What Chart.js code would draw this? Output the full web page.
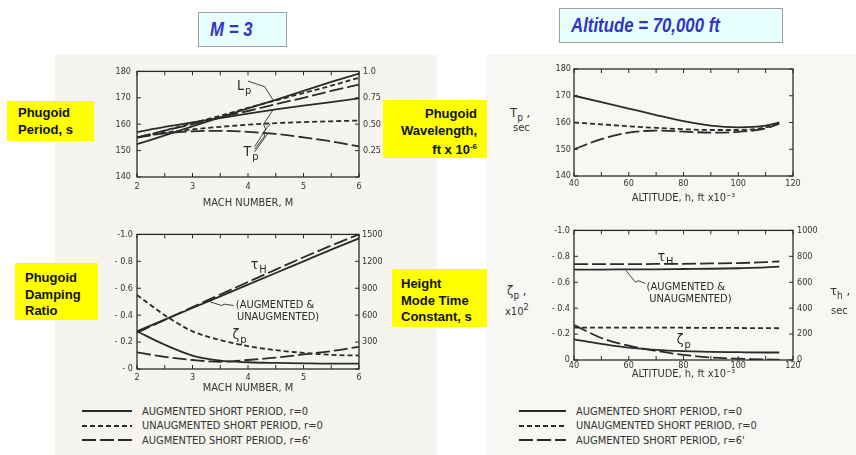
<!DOCTYPE html>
<html>
<head>
<meta charset="utf-8">
<script src="https://cdn.jsdelivr.net/npm/chart.js@4.4.1/dist/chart.umd.min.js"></script>
<style>
  body { margin: 0; width: 856px; height: 455px; position: relative; overflow: hidden; background: #fff; }
  .scan { position: absolute; background: #f6f4ef; }
  canvas { position: absolute; }
  .title { position: absolute; box-sizing: border-box; background: #e8ffff; border: 1px solid #a0a0a0;
           color: #3434c4; font: italic bold 20px 'Liberation Sans', Arial, sans-serif; padding-left: 11px; white-space: nowrap; }
  .title span { display: inline-block; transform: scaleX(0.84); transform-origin: left center; }
  .tag { position: absolute; box-sizing: border-box; background: #ffff00; color: #111;
         font: bold 13px 'Liberation Sans', Arial, sans-serif; line-height: 16.5px; }
  .axlbl { position: absolute; color: #333; font: 13px 'Liberation Sans Narrow', 'DejaVu Sans Condensed', sans-serif; line-height: 14px; }
  .axlbl.small { font-size: 11px; }
  .legend { position: absolute; color: #333; font: 11px 'Liberation Sans Narrow', 'DejaVu Sans Condensed', sans-serif; }
  .legend div { height: 14.5px; display: flex; align-items: center; }
  .legend svg { margin-right: 10px; }
</style>
</head>
<body>
<div class="scan" style="left:55px;top:55px;width:382px;height:400px;"></div>
<div class="scan" style="left:486px;top:55px;width:370px;height:400px;background:#f7f7f4;"></div>

<div class="title" style="left:198px;top:12px;width:89px;height:35px;line-height:33px;"><span>M = 3</span></div>
<div class="title" style="left:559px;top:8px;width:224px;height:35px;line-height:33px;"><span>Altitude = 70,000 ft</span></div>

<canvas id="machPeriod"></canvas>
<canvas id="machDamping"></canvas>
<canvas id="altPeriod"></canvas>
<canvas id="altDamping"></canvas>

<div class="tag" style="left:7px;top:101px;width:87px;height:40px;padding:4px 0 0 11px;">Phugoid<br>Period, s</div>
<div class="tag" style="left:383px;top:100px;width:104px;height:58px;padding:6px 10px 0 0;text-align:right;">Phugoid<br>Wavelength,<br>ft x 10<sup style="font-size:8px">-6</sup></div>
<div class="tag" style="left:15px;top:263px;width:83px;height:57px;padding:7px 0 0 10px;">Phugoid<br>Damping<br>Ratio</div>
<div class="tag" style="left:392px;top:269px;width:95px;height:58px;padding:7px 0 0 9px;">Height<br>Mode Time<br>Constant, s</div>

<div class="axlbl" style="left:510px;top:106px;">T<sub style="font-size:10px">p</sub> ,</div>
<div class="axlbl small" style="left:513px;top:121px;">sec</div>
<div class="axlbl" style="left:507px;top:284px;">ζ<sub style="font-size:10px">p</sub> ,</div>
<div class="axlbl small" style="left:505px;top:300px;">x10<sup style="font-size:9px">2</sup></div>
<div class="axlbl" style="left:830px;top:284px;">τ<sub style="font-size:10px">h</sub> ,</div>
<div class="axlbl small" style="left:831px;top:304px;">sec</div>

<div class="legend" id="legendMach" style="left:82px;top:404px;"></div>
<div class="legend" id="legendAlt" style="left:519px;top:404px;"></div>

<script>
// ---- data ----
const machNumbers = [2, 2.5, 3, 3.5, 4, 4.5, 5, 5.5, 6];
const altitudes = [40, 50, 60, 70, 80, 90, 100, 110, 115];

const machTicks = [2, 3, 4, 5, 6];
const altitudeTicks = [40, 60, 80, 100, 120];
const periodTicks = [140, 150, 160, 170, 180];
const wavelengthTicks = [0, 0.25, 0.5, 0.75, 1.0];
const dampingTicks = [-1, -0.8, -0.6, -0.4, -0.2, 0];
const tauMachTicks = [0, 300, 600, 900, 1200, 1500];
const tauAltTicks = [0, 200, 400, 600, 800, 1000];

// M = 3 column, phugoid period T_p (s)
const periodAugMach = [157, 159, 160.7, 162.3, 164, 165.6, 167, 168.4, 169.8];
const periodUnaugMach = [155, 156.8, 158, 159, 159.8, 160.4, 160.8, 161.1, 161.4];
const periodAug6Mach = [155, 156.5, 157.3, 157.5, 157.1, 156.3, 155, 153.5, 151.6];
// phugoid wavelength L_p (ft x 10^-6)
const wavelengthAug = [0.31, 0.395, 0.48, 0.565, 0.65, 0.73, 0.815, 0.9, 0.98];
const wavelengthUnaug = [0.37, 0.44, 0.51, 0.58, 0.655, 0.725, 0.795, 0.865, 0.94];
const wavelengthAug6 = [0.375, 0.44, 0.5, 0.565, 0.625, 0.69, 0.75, 0.815, 0.875];
// phugoid damping ratio zeta_p
const dampingAugMach = [-0.28, -0.18, -0.10, -0.062, -0.05, -0.045, -0.042, -0.04, -0.04];
const dampingUnaugMach = [-0.55, -0.40, -0.28, -0.215, -0.17, -0.14, -0.12, -0.105, -0.10];
const dampingAug6Mach = [-0.123, -0.09, -0.067, -0.054, -0.067, -0.084, -0.108, -0.133, -0.165];
// height mode time constant tau_H (s)
const tauAugMach = [420, 550, 680, 810, 940, 1070, 1200, 1330, 1455];
const tauAug6Mach = [405, 548, 690, 830, 970, 1108, 1245, 1375, 1500];

// altitude column
const periodAugAlt = [170, 167.6, 165.2, 162.8, 160.5, 158.8, 158.2, 158.8, 160];
const periodUnaugAlt = [160, 159.3, 158.6, 158, 157.5, 157.2, 157.2, 158.2, 159.8];
const periodAug6Alt = [150, 153.8, 156.2, 157, 156.6, 156.2, 156.5, 157.8, 159.6];
const dampingAugAlt = [-0.16, -0.125, -0.095, -0.078, -0.068, -0.062, -0.06, -0.058, -0.058];
const dampingUnaugAlt = [-0.25, -0.25, -0.25, -0.25, -0.249, -0.248, -0.247, -0.246, -0.245];
const dampingAug6Alt = [-0.27, -0.17, -0.11, -0.07, -0.04, -0.02, -0.01, -0.004, -0.002];
const tauAugAlt = [698, 698, 699, 700, 702, 704, 708, 714, 720];
const tauAug6Alt = [740, 740, 740, 741, 742, 745, 748, 755, 760];

const legendItems = ['AUGMENTED SHORT PERIOD, r=0', 'UNAUGMENTED SHORT PERIOD, r=0', "AUGMENTED SHORT PERIOD, r=6'"];

// ---- styling ----
const ink = '#2b2b2b';
const scanFont = "'Liberation Sans Narrow', 'DejaVu Sans Condensed', sans-serif";
const dashes = { aug: [], unaug: [5, 3], aug6: [14, 4] };
Chart.defaults.font.family = scanFont;
Chart.defaults.color = '#333';

function series(xs, ys, style, axis) {
    return {
        data: xs.map((x, i) => ({ x, y: ys[i] })),
        yAxisID: axis || 'y',
        borderColor: ink,
        borderWidth: 1.8,
        borderDash: dashes[style],
        pointRadius: 0,
        cubicInterpolationMode: 'monotone',
        fill: false,
    };
}

function axis(opts) {
    const { ticks, pos, size, pad, fmt, title, min, max, reverse } = opts;
    return {
        type: 'linear',
        position: pos,
        min, max, reverse: !!reverse,
        grid: { display: false, drawTicks: false },
        border: { display: false },
        afterBuildTicks: (s) => { s.ticks = ticks.map((v) => ({ value: v })); },
        afterFit: (s) => { if (s.isHorizontal()) s.height = size; else s.width = size; },
        ticks: { padding: pad, font: { size: 9 }, autoSkip: false, callback: fmt || ((v) => v) },
        title: title ? { display: true, text: title, padding: 0, font: { size: 11 } } : { display: false },
    };
}

// frame around plot area with inward tick marks, like the scanned figures
const framePlugin = {
    id: 'frame',
    afterDraw(chart) {
        const { ctx, chartArea: a, scales } = chart;
        const len = 4;
        ctx.save();
        ctx.strokeStyle = ink;
        ctx.lineWidth = 1.3;
        ctx.strokeRect(a.left, a.top, a.right - a.left, a.bottom - a.top);
        ctx.lineWidth = 1;
        ctx.beginPath();
        const xv = scales.x.ticks.map((t) => t.value);
        const marks = [];
        xv.forEach((v, i) => { marks.push(v); if (i < xv.length - 1) marks.push((v + xv[i + 1]) / 2); });
        marks.forEach((v) => {
            const p = scales.x.getPixelForValue(v);
            ctx.moveTo(p, a.bottom); ctx.lineTo(p, a.bottom - len);
            ctx.moveTo(p, a.top); ctx.lineTo(p, a.top + len);
        });
        scales.y.ticks.forEach((t) => {
            const p = scales.y.getPixelForValue(t.value);
            ctx.moveTo(a.left, p); ctx.lineTo(a.left + len, p);
            if (!scales.y2) { ctx.moveTo(a.right, p); ctx.lineTo(a.right - len, p); }
        });
        if (scales.y2) {
            scales.y2.ticks.forEach((t) => {
                const p = scales.y2.getPixelForValue(t.value);
                ctx.moveTo(a.right, p); ctx.lineTo(a.right - len, p);
            });
        }
        ctx.stroke();
        ctx.restore();
    },
};

// curve labels and leader lines placed in data units
const notesPlugin = {
    id: 'notes',
    afterDatasetsDraw(chart, args, opts) {
        const { ctx, scales } = chart;
        const at = (x, y, ax) => [scales.x.getPixelForValue(x), scales[ax || 'y'].getPixelForValue(y)];
        ctx.save();
        ctx.strokeStyle = ink;
        ctx.fillStyle = ink;
        ctx.lineWidth = 0.9;
        (opts.leaders || []).forEach((l) => {
            ctx.beginPath();
            l.pts.forEach((p, i) => {
                const [px, py] = at(p[0], p[1], l.axis);
                if (i) ctx.lineTo(px, py); else ctx.moveTo(px, py);
            });
            ctx.stroke();
        });
        (opts.labels || []).forEach((n) => {
            const [px, py] = at(n.x, n.y, n.axis);
            const size = n.size || 14;
            ctx.textBaseline = 'middle';
            ctx.textAlign = 'left';
            ctx.font = `${size}px ${scanFont}`;
            ctx.fillText(n.text, px, py);
            if (n.sub) {
                const w = ctx.measureText(n.text).width;
                ctx.font = `${Math.round(size * 0.78)}px ${scanFont}`;
                ctx.fillText(n.sub, px + w + 1, py + size * 0.35);
            }
        });
        ctx.restore();
    },
};

function makeChart(id, place, datasets, scales, notes) {
    const cv = document.getElementById(id);
    cv.style.left = place.left + 'px';
    cv.style.top = place.top + 'px';
    cv.width = place.width;
    cv.height = place.height;
    return new Chart(cv, {
        type: 'line',
        data: { datasets },
        options: {
            responsive: false,
            animation: false,
            layout: { padding: { top: place.padTop, right: place.padRight || 0, left: 0, bottom: 0 } },
            plugins: { legend: { display: false }, tooltip: { enabled: false }, notes },
            scales,
        },
        plugins: [framePlugin, notesPlugin],
    });
}

const negFmt = (zero) => (v) => (v === 0 ? zero : '- ' + Math.abs(v).toFixed(1)).replace('- 1.0', '-1.0');

// top left: period and wavelength vs Mach
makeChart('machPeriod', { left: 97, top: 60, width: 300, height: 150, padTop: 9 }, [
    series(machNumbers, periodAugMach, 'aug'),
    series(machNumbers, periodUnaugMach, 'unaug'),
    series(machNumbers, periodAug6Mach, 'aug6'),
    series(machNumbers, wavelengthAug, 'aug', 'y2'),
    series(machNumbers, wavelengthUnaug, 'unaug', 'y2'),
    series(machNumbers, wavelengthAug6, 'aug6', 'y2'),
], {
    x: axis({ ticks: machTicks, pos: 'bottom', size: 33, pad: 4, min: 2, max: 6, title: 'MACH NUMBER, M' }),
    y: axis({ ticks: periodTicks, pos: 'left', size: 40, pad: 6, min: 140, max: 180 }),
    y2: axis({ ticks: wavelengthTicks, pos: 'right', size: 38, pad: 4, min: 0, max: 1,
        fmt: (v) => (v === 0 ? '' : v === 1 ? '1.0' : v.toFixed(2)) }),
}, {
    labels: [
        { text: 'L', sub: 'p', x: 3.8, y: 174.5 },
        { text: 'T', sub: 'p', x: 3.92, y: 149.5 },
    ],
    leaders: [
        { pts: [[4.0, 176.3], [4.3, 174.2], [4.38, 171.5], [4.45, 169.2]] },
        { pts: [[4.12, 151.5], [4.32, 158], [4.28, 160], [4.45, 165.4]] },
        { pts: [[4.12, 150.5], [4.3, 155.5], [4.28, 157], [4.4, 160.2]] },
        { pts: [[4.12, 149.5], [4.36, 156.6]] },
    ],
});

// bottom left: damping ratio and height mode time constant vs Mach
makeChart('machDamping', { left: 97, top: 225, width: 300, height: 170, padTop: 9 }, [
    series(machNumbers, dampingAugMach, 'aug'),
    series(machNumbers, dampingUnaugMach, 'unaug'),
    series(machNumbers, dampingAug6Mach, 'aug6'),
    series(machNumbers, tauAugMach, 'aug', 'y2'),
    series(machNumbers, tauAug6Mach, 'aug6', 'y2'),
], {
    x: axis({ ticks: machTicks, pos: 'bottom', size: 26, pad: 3, min: 2, max: 6, title: 'MACH NUMBER, M' }),
    y: axis({ ticks: dampingTicks, pos: 'left', size: 40, pad: 4, min: -1, max: 0, reverse: true, fmt: negFmt('- 0') }),
    y2: axis({ ticks: tauMachTicks, pos: 'right', size: 38, pad: 3, min: 0, max: 1500,
        fmt: (v) => (v === 0 ? '' : String(v)) }),
}, {
    labels: [
        { text: 'τ', sub: 'H', x: 4.05, y: 1160, axis: 'y2', size: 14 },
        { text: '(AUGMENTED &', x: 3.78, y: 715, axis: 'y2', size: 11 },
        { text: 'UNAUGMENTED)', x: 3.8, y: 580, axis: 'y2', size: 11 },
        { text: 'ζ', sub: 'p', x: 3.72, y: -0.25, size: 14 },
    ],
    leaders: [
        { axis: 'y2', pts: [[3.74, 708], [3.58, 722], [3.52, 708], [3.3, 752]] },
    ],
});

// top right: period vs altitude
makeChart('altPeriod', { left: 540, top: 60, width: 268, height: 145, padTop: 9, padRight: 15 }, [
    series(altitudes, periodAugAlt, 'aug'),
    series(altitudes, periodUnaugAlt, 'unaug'),
    series(altitudes, periodAug6Alt, 'aug6'),
], {
    x: axis({ ticks: altitudeTicks, pos: 'bottom', size: 29, pad: 2, min: 40, max: 120, title: 'ALTITUDE, h, ft x10⁻³' }),
    y: axis({ ticks: periodTicks, pos: 'left', size: 34, pad: 3, min: 140, max: 180 }),
}, {});

// bottom right: damping ratio and tau_H vs altitude
makeChart('altDamping', { left: 540, top: 221, width: 295, height: 160, padTop: 9 }, [
    series(altitudes, dampingAugAlt, 'aug'),
    series(altitudes, dampingUnaugAlt, 'unaug'),
    series(altitudes, dampingAug6Alt, 'aug6'),
    series(altitudes, tauAugAlt, 'aug', 'y2'),
    series(altitudes, tauAug6Alt, 'aug6', 'y2'),
], {
    x: axis({ ticks: altitudeTicks, pos: 'bottom', size: 21, pad: 0, min: 40, max: 120, title: 'ALTITUDE, h, ft x10⁻³' }),
    y: axis({ ticks: dampingTicks, pos: 'left', size: 34, pad: 4, min: -1, max: 0, reverse: true, fmt: negFmt('0') }),
    y2: axis({ ticks: tauAltTicks, pos: 'right', size: 42, pad: 4, min: 0, max: 1000 }),
}, {
    labels: [
        { text: 'τ', sub: 'H', x: 70.5, y: 790, axis: 'y2', size: 14 },
        { text: '(AUGMENTED &', x: 66.5, y: 562, axis: 'y2', size: 11 },
        { text: 'UNAUGMENTED)', x: 67.5, y: 468, axis: 'y2', size: 11 },
        { text: 'ζ', sub: 'p', x: 77.5, y: -0.15, size: 14 },
    ],
    leaders: [
        { axis: 'y2', pts: [[66, 590], [63.5, 612], [62.5, 600], [59, 690]] },
    ],
});

// legends below each column
function buildLegend(id, width) {
    const box = document.getElementById(id);
    const styles = ['aug', 'unaug', 'aug6'];
    legendItems.forEach((txt, i) => {
        const row = document.createElement('div');
        const dash = dashes[styles[i]].join(' ');
        row.innerHTML = `<svg width="${width}" height="6"><line x1="0" y1="3" x2="${width}" y2="3" stroke="${ink}" stroke-width="1.8" stroke-dasharray="${dash}"/></svg><span>${txt}</span>`;
        box.appendChild(row);
    });
}
buildLegend('legendMach', 50);
buildLegend('legendAlt', 47);
</script>
</body>
</html>
